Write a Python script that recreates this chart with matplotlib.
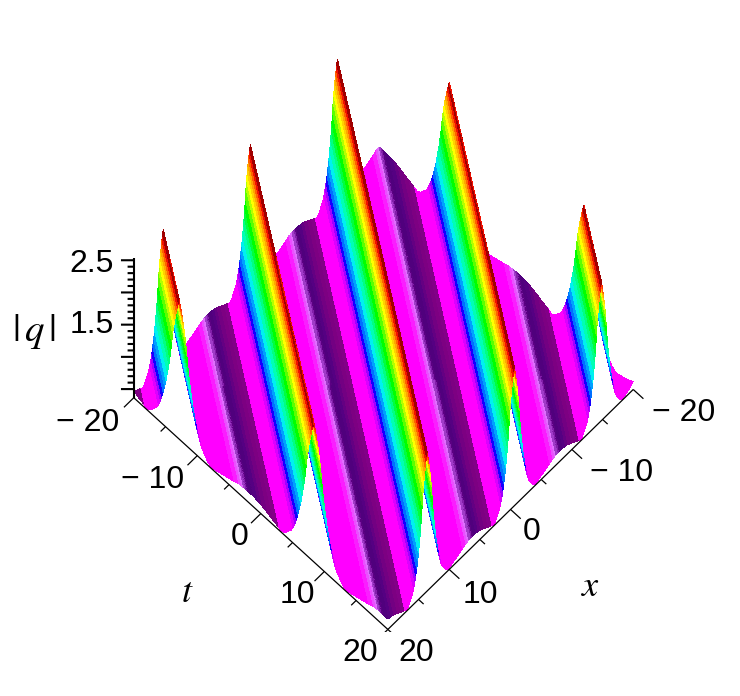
import numpy as np
import matplotlib
matplotlib.use('Agg')
import matplotlib.pyplot as plt

plt.rcParams['font.family'] = ['Liberation Sans', 'DejaVu Sans']
plt.rcParams['mathtext.fontset'] = 'stix'

# stripes run along x - 0.67 t = const, these are the crests
crest_pos = [42.8, 28.6, 14.4, 0.2, -14.0, -28.2, -42.4]
stripe_slope = 0.67

# one period of the stripe: distance below a crest, height |q|, colour
period_dist = [0.0, 0.1, 0.2, 0.3, 0.4, 0.5, 0.6, 0.7, 0.8, 0.9, 1.0, 1.1, 1.25, 1.4, 1.55, 1.7, 1.85, 2.0,
               2.2, 2.4, 2.6, 3.0, 3.4,
               4.5, 5.8, 6.3, 6.6, 6.8, 7.0, 7.2, 7.4, 7.8, 8.2, 8.6, 9.2, 9.8, 10.4, 10.8,
               11.2, 11.6, 11.8, 12.0, 12.2, 12.35, 12.5, 12.65, 12.8, 12.95, 13.1, 13.2,
               13.3, 13.4, 13.5, 13.6, 13.7, 13.8, 13.9, 14.0, 14.1]
period_q = [2.53, 2.46, 2.39, 2.31, 2.23, 2.14, 2.03, 1.92, 1.77, 1.62, 1.50, 1.38, 1.24, 1.09, 0.98, 0.87, 0.78, 0.70,
            0.61, 0.54, 0.50, 0.42, 0.38,
            0.43, 0.49, 0.52, 0.52, 0.53, 0.53, 0.53, 0.53, 0.53, 0.52, 0.51, 0.48, 0.44, 0.41, 0.38,
            0.42, 0.50, 0.54, 0.61, 0.70, 0.78, 0.87, 0.98, 1.09, 1.24, 1.38, 1.50,
            1.62, 1.77, 1.92, 2.03, 2.14, 2.23, 2.31, 2.39, 2.46]
period_color = ['#a00000', '#f01000', '#ff3000', '#ff6000', '#ffa500', '#ffd200', '#ffff00', '#b4ff00', '#5aff00',
                '#00ff00', '#00ff3c', '#00ff82', '#00ffb4', '#00f0f0', '#00a0ff', '#006eff', '#1400ff', '#a000ff',
                '#dc00ff', '#ff00ff', '#ff00ff', '#ff00ff', '#ff00ff',
                '#ff00ff', '#ff00ff', '#fa1eff', '#eb50ff', '#e16eff', '#a03cc8', '#821eaa', '#5a0082',
                '#50007d', '#550082', '#640082', '#730082', '#7d0082', '#820087', '#ff00ff',
                '#ff00ff', '#ff00ff', '#ff00ff', '#ff00ff', '#dc00ff', '#a000ff', '#1400ff', '#006eff',
                '#00a0ff', '#00f0f0', '#00ffb4', '#00ff82', '#00ff3c', '#00ff00', '#5aff00', '#b4ff00',
                '#ffff00', '#ffd200', '#ffa500', '#ff6000', '#f01000']

x_ticks = [-20, -10, 0, 10, 20]
t_ticks = [-20, -10, 0, 10, 20]
z_ticks = [0.5, 1.0, 1.5, 2.0, 2.5]
z_bottom = 0.366
z_top = 2.53


def hex_rgb(c):
    return [int(c[1:3], 16) / 255, int(c[3:5], 16) / 255, int(c[5:7], 16) / 255, 1.0]


# 组装网格: rows follow the stripes, columns go along them
rows_u = []
rows_q = []
rows_c = []
for c in crest_pos:
    for d, q, col in zip(period_dist, period_q, period_color):
        rows_u.append(c - d)
        rows_q.append(q)
        rows_c.append(hex_rgb(col))
rows_u = np.array(rows_u)
rows_q = np.array(rows_q)
rows_c = np.array(rows_c)
order = np.argsort(rows_u)
rows_u, rows_q, rows_c = rows_u[order], rows_q[order], rows_c[order]

u_edge = 20 + stripe_slope * 20
keep = np.where(np.abs(rows_u) < u_edge)[0]
keep = np.arange(keep[0] - 1, keep[-1] + 2)
rows_u = np.clip(rows_u[keep], -u_edge, u_edge)
rows_q = rows_q[keep]
rows_c = rows_c[keep]

steps = np.linspace(0, 1, 70)
t_lo = np.maximum(-20, (-20 - rows_u) / stripe_slope)
t_hi = np.minimum(20, (20 - rows_u) / stripe_slope)
T = t_lo[:, None] + (t_hi - t_lo)[:, None] * steps[None, :]
X = rows_u[:, None] + stripe_slope * T
Z = np.repeat(rows_q[:, None], len(steps), axis=1)
C = np.repeat(rows_c[:, None, :], len(steps), axis=1)

fig = plt.figure(figsize=(7.4, 6.96), dpi=100)
ax = fig.add_axes([75.4 / 740, 64 / 696, 600 / 740, 600 / 696], projection='3d', proj_type='ortho')
ax.computed_zorder = False
ax.view_init(elev=70.8, azim=44)
ax.set_xlim(-20, 20)
ax.set_ylim(-20, 20)
ax.set_zlim(z_bottom, z_top)
ax.set_box_aspect((1, 1, 1.2), zoom=1.06)
ax.set_axis_off()

ax.plot_surface(X, T, Z, facecolors=C, rstride=1, cstride=1, linewidth=0, antialiased=False,
                shade=False, zorder=1)

# 坐标轴
line = dict(color='black', lw=0.9, zorder=3, solid_capstyle='butt')
ax.plot([20, 20], [-20, 20], [z_bottom, z_bottom], **line)
ax.plot([-20, 20], [20, 20], [z_bottom, z_bottom], **line)
for t in np.arange(-20, 21, 5):
    size = 1.6 if t in t_ticks else 0.8
    ax.plot([20, 20 + size], [t, t], [z_bottom, z_bottom], **line)
for x in np.arange(-20, 21, 5):
    size = 1.6 if x in x_ticks else 0.8
    ax.plot([x, x], [20, 20 + size], [z_bottom, z_bottom], **line)

zline = dict(color='black', lw=1.5, zorder=3, solid_capstyle='butt')
ax.plot([20, 20], [-20, -20], [z_bottom, z_top], **zline)
for i in range(21):
    z = 0.5 + i * 0.1
    long_tick = any(abs(z - m) < 1e-6 for m in z_ticks)
    size = 1.45 if long_tick else 0.7
    ax.plot([20, 20 + size * 0.695], [-20, -20 - size * 0.719], [z, z], **zline)


def label(px, py, s, **kw):
    fig.text(px / 740, 1 - py / 696, s, ha='center', va='center', **kw)


fs = 23
label(92, 264, '2.5', fontsize=fs)
label(92, 325, '1.5', fontsize=fs)
label(88, 423, '\u2212 20', fontsize=fs)
label(153, 480, '\u2212 10', fontsize=fs)
label(240, 537, '0', fontsize=fs)
label(297, 595, '10', fontsize=fs)
label(360, 653, '20', fontsize=fs)
label(416, 653, '20', fontsize=fs)
label(480, 595, '10', fontsize=fs)
label(532, 532, '0', fontsize=fs)
label(622, 473, '\u2212 10', fontsize=fs)
label(684, 413, '\u2212 20', fontsize=fs)
label(34, 331, r'$|\,q\,|$', fontsize=28)
label(187, 593, r'$t$', fontsize=26)
label(591, 587, r'$x$', fontsize=26)

fig.savefig('out.png', dpi=100)
